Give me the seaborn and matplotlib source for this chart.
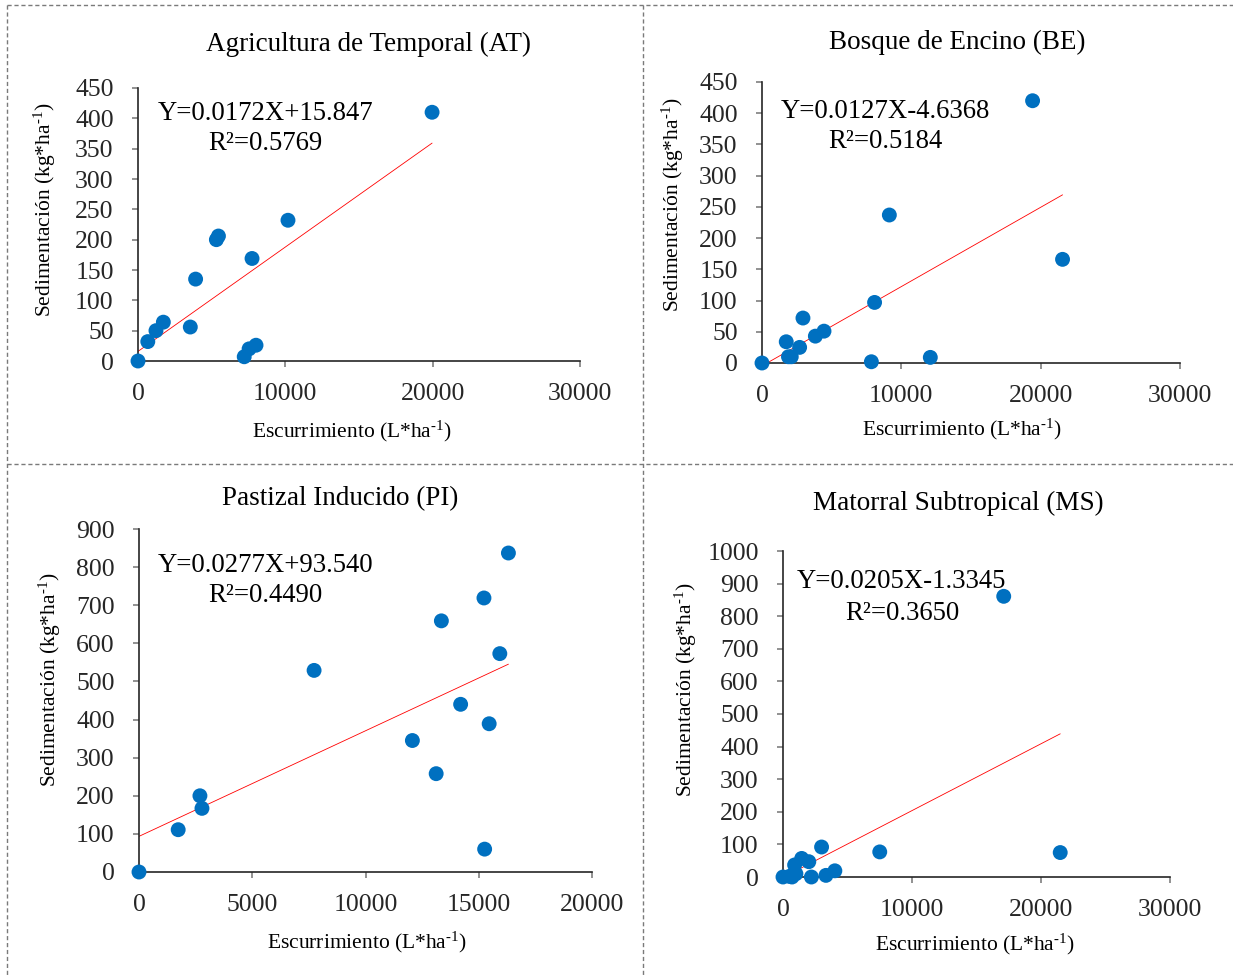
import matplotlib
matplotlib.use("Agg")
import matplotlib.pyplot as plt
from matplotlib.lines import Line2D
import numpy as np
import pandas as pd
import seaborn as sns

# Runoff (L/ha) and sediment (kg/ha) per land use
at_x = [0, 665, 1220, 1720, 3550, 3910, 5320, 5460, 7210, 7540, 7740, 8010, 10180, 19960]
at_y = [0, 32, 50, 64, 56, 135, 200, 206, 7, 20, 169, 26, 232, 410]

be_x = [0, 1740, 1900, 2100, 2700, 2940, 3830, 4450, 7850, 8080, 9140, 12080, 19420, 21570]
be_y = [0, 34, 10, 10, 25, 72, 43, 51, 2, 97, 237, 9, 420, 166]

pi_x = [0, 1730, 2690, 2780, 7730, 12070, 13120, 13350, 14200, 15230, 15460, 15260, 15930, 16310]
pi_y = [0, 111, 200, 167, 529, 345, 258, 659, 440, 719, 389, 60, 573, 837]

ms_x = [0, 500, 700, 1000, 900, 1450, 2000, 2990, 2200, 3330, 4020, 7500, 17110, 21490]
ms_y = [0, 2, 0, 10, 37, 57, 47, 92, 0, 5, 19, 77, 861, 75]

titles = ["Agricultura de Temporal (AT)", "Bosque de Encino (BE)",
          "Pastizal Inducido (PI)", "Matorral Subtropical (MS)"]
slopes = [0.0172, 0.0127, 0.0277, 0.0205]
intercepts = [15.847, -4.6368, 93.540, -1.3345]
equations = ["Y=0.0172X+15.847", "Y=0.0127X-4.6368", "Y=0.0277X+93.540", "Y=0.0205X-1.3345"]
r2_labels = ["R²=0.5769", "R²=0.5184", "R²=0.4490", "R²=0.3650"]
x_ticks = [[0, 10000, 20000, 30000], [0, 10000, 20000, 30000],
           [0, 5000, 10000, 15000, 20000], [0, 10000, 20000, 30000]]
y_ticks = [list(range(0, 451, 50)), list(range(0, 451, 50)),
           list(range(0, 901, 100)), list(range(0, 1001, 100))]

sns.set_theme(style="white")
plt.rcParams["font.family"] = ["Liberation Serif", "DejaVu Serif"]
plt.rcParams["mathtext.fontset"] = "custom"
plt.rcParams["mathtext.rm"] = "Liberation Serif"
plt.rcParams["mathtext.it"] = "Liberation Serif:italic"

W, H = 1233, 975
fig = plt.figure(figsize=(W / 100, H / 100), dpi=100)
fig.patch.set_facecolor("white")


def fx(px):
    return px / W


def fy(py):
    return 1 - py / H


# Panel layout in pixels: left, right, top, bottom of plotting area
boxes = [(138, 580, 88, 361), (762, 1180, 82, 363), (139, 592, 529, 872), (783, 1170, 551, 877)]
title_pos = [(368, 44), (957, 42), (340, 499), (958, 503)]
xlabel_pos = [(352, 431), (962, 429), (367, 942), (975, 944)]
ylabel_pos = [(45, 210), (673, 205), (50, 680), (686, 690)]
eq_pos = [(158, 113), (781, 111), (158, 565), (797, 582)]
r2_pos = [(208, 143), (828, 142), (208, 596), (845, 613)]

# superscript "-1" written with a typographic hyphen so it stays short
sup = r"$^{\mathregular{‐1}}$"
xlabel = "Escurrimiento (L*ha" + sup + ")"
ylabel = "Sedimentación (kg*ha" + sup + ")"

series = [(at_x, at_y), (be_x, be_y), (pi_x, pi_y), (ms_x, ms_y)]

for i, ((xs, ys), (l, r, t, b)) in enumerate(zip(series, boxes)):
    ax = fig.add_axes([fx(l), fy(b), fx(r) - fx(l), fy(t) - fy(b)])
    df = pd.DataFrame({"x": xs, "y": ys})
    xmax = max(xs)
    line = pd.DataFrame({"x": [0, xmax],
                         "y": [intercepts[i], slopes[i] * xmax + intercepts[i]]})
    sns.lineplot(data=line, x="x", y="y", ax=ax, color="#FF0000", linewidth=0.6, zorder=2)
    sns.scatterplot(data=df, x="x", y="y", ax=ax, color="#0070C0", s=115,
                    edgecolor="none", zorder=3, clip_on=False)
    ax.set_xlim(x_ticks[i][0], x_ticks[i][-1])
    ax.set_ylim(y_ticks[i][0], y_ticks[i][-1])
    ax.set_xticks(x_ticks[i])
    ax.set_yticks(y_ticks[i])
    ax.set_xlabel("")
    ax.set_ylabel("")
    for s in ["top", "right"]:
        ax.spines[s].set_visible(False)
    for s in ["left", "bottom"]:
        ax.spines[s].set_color("#262626")
        ax.spines[s].set_linewidth(1.2)
    ax.tick_params(axis="both", direction="out", length=4.5, width=1.2, color="#7f7f7f",
                   labelsize=18.5, left=True, bottom=True)
    ax.yaxis.set_tick_params(pad=13)
    ax.xaxis.set_tick_params(pad=11)
    ax.set_facecolor("none")

    fig.text(fx(title_pos[i][0]), fy(title_pos[i][1]), titles[i], ha="center", va="center",
             fontsize=19.5, color="black")
    fig.text(fx(xlabel_pos[i][0]), fy(xlabel_pos[i][1]), xlabel,
             ha="center", va="center", fontsize=15.5, color="black")
    fig.text(fx(ylabel_pos[i][0]), fy(ylabel_pos[i][1]), ylabel,
             ha="center", va="center", rotation=90, fontsize=15.5, color="black")
    fig.text(fx(eq_pos[i][0]), fy(eq_pos[i][1]), equations[i], ha="left", va="center",
             fontsize=19.3, color="black")
    fig.text(fx(r2_pos[i][0]), fy(r2_pos[i][1]), r2_labels[i], ha="left", va="center",
             fontsize=19.3, color="black")

# Dashed cell borders
dash = dict(color="#7a7a7a", linewidth=1.0, linestyle=(0, (3, 2)))
fig.add_artist(Line2D([fx(7), 1], [fy(5), fy(5)], **dash))
fig.add_artist(Line2D([fx(7), fx(7)], [fy(5), 0], **dash))
fig.add_artist(Line2D([fx(643), fx(643)], [fy(5), 0], **dash))
fig.add_artist(Line2D([fx(7), 1], [fy(464), fy(464)], **dash))

fig.savefig("out.png", dpi=100, facecolor="white")
